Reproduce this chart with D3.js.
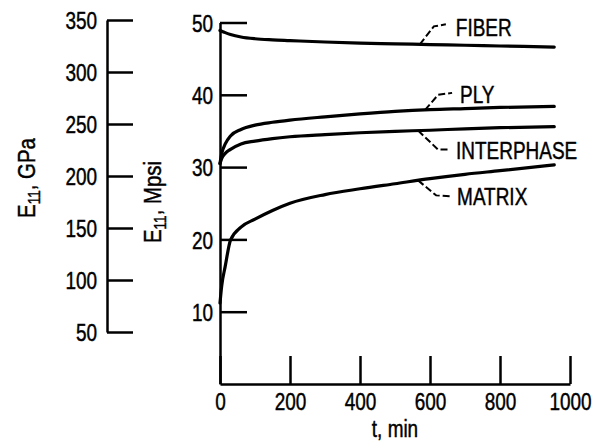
<!DOCTYPE html>
<html>
<head>
<meta charset="utf-8">
<script src="https://cdn.jsdelivr.net/npm/d3@7"></script>
<style>
  html, body { margin: 0; padding: 0; background: #fff; }
  svg text { font-family: "Liberation Sans", Arial, sans-serif; fill: #000; stroke: #000; stroke-width: 0.45px; }
</style>
</head>
<body>
<div id="chart"></div>
<script>
// time, min (shared sample points for every curve)
const times = [0, 5, 15, 30, 60, 100, 150, 200, 300, 400, 500, 600, 700, 800, 955];

// E11, Mpsi
const fiber      = [48.9, 48.8, 48.6, 48.35, 48.0, 47.75, 47.6, 47.5, 47.3, 47.15, 47.05, 46.95, 46.85, 46.75, 46.6];
const ply        = [30.5, 31.9, 33.2, 34.3, 35.2, 35.8, 36.2, 36.5, 36.95, 37.35, 37.7, 37.95, 38.1, 38.25, 38.4];
const interphase = [30.5, 31.2, 31.9, 32.45, 33.2, 33.6, 33.95, 34.2, 34.5, 34.75, 34.95, 35.1, 35.3, 35.45, 35.6];
const matrix     = [11.2, 13.6, 16.3, 19.9, 21.7, 22.8, 24.0, 25.0, 26.2, 27.0, 27.7, 28.4, 29.0, 29.5, 30.3];

const seriesNames = ["FIBER", "PLY", "INTERPHASE", "MATRIX"];
const seriesValues = [fiber, ply, interphase, matrix];

// where each leader line leaves its curve (t, min)
const leaderAt = [571, 586, 566, 566];

const xTicks = [0, 200, 400, 600, 800, 1000];
const yTicks = [10, 20, 30, 40, 50];
const gpaTicks = [50, 100, 150, 200, 250, 300, 350];

const width = 593, height = 448;
const squeeze = 0.79; // the scan uses a condensed face

const svg = d3.select("#chart")
  .append("svg")
  .attr("width", width)
  .attr("height", height);

const x = d3.scaleLinear().domain([0, 1000]).range([220, 570]);
const y = d3.scaleLinear().domain([0, 50]).range([384, 22.5]);
const yGpa = d3.scaleLinear().domain([50, 350]).range([332, 20]);

// main x axis, ticks pointing up
const xAxis = svg.append("g")
  .attr("transform", `translate(0,${y(0)})`)
  .call(d3.axisBottom(x).tickValues(xTicks).tickFormat(d3.format("d"))
    .tickSizeInner(-28).tickSizeOuter(0).tickPadding(9));

// main y axis, ticks pointing right
const yAxis = svg.append("g")
  .attr("transform", `translate(${x(0)},0)`)
  .call(d3.axisLeft(y).tickValues(yTicks).tickFormat(d3.format("d"))
    .tickSizeInner(-27).tickSizeOuter(0).tickPadding(7 / squeeze));

// GPa axis
const gAxis = svg.append("g")
  .attr("transform", "translate(107,0)")
  .call(d3.axisLeft(yGpa).tickValues(gpaTicks).tickFormat(d3.format("d"))
    .tickSizeInner(-26).tickSizeOuter(0).tickPadding(10 / squeeze));

[xAxis, yAxis, gAxis].forEach(g => {
  g.select(".domain").attr("stroke", "#000").attr("stroke-width", 2.5);
  g.selectAll(".tick line").attr("stroke", "#000").attr("stroke-width", 2.5);
  g.selectAll(".tick text").attr("font-size", 24).attr("fill", "#000")
    .attr("font-family", null)
    .attr("transform", `scale(${squeeze},1)`);
});
xAxis.selectAll(".tick text").attr("dy", "0.72em");
yAxis.selectAll(".tick text").attr("dy", "0.36em");
gAxis.selectAll(".tick text").attr("dy", "0.36em");

// curves
const line = d3.line()
  .x((d, i) => x(times[i]))
  .y(d => y(d))
  .curve(d3.curveMonotoneX);

svg.append("g")
  .selectAll("path")
  .data(seriesValues)
  .join("path")
  .attr("d", d => line(d))
  .attr("fill", "none")
  .attr("stroke", "#000")
  .attr("stroke-width", 3.2)
  .attr("stroke-linecap", "round");

// leader lines + labels
const leaderShape = [
  [[14, -18], [26, -20]],
  [[13, -15], [27, -17]],
  [[20, 19], [32, 19]],
  [[18, 15], [33, 16]]
];
const labelOffset = [[36, -8], [35, -7], [38, 28], [39, 25]];

seriesNames.forEach((name, k) => {
  const t = leaderAt[k];
  const v = d3.scaleLinear().domain(times).range(seriesValues[k])(t);
  const px = x(t), py = y(v);
  const pts = [[px, py]].concat(leaderShape[k].map(p => [px + p[0], py + p[1]]));
  svg.append("path")
    .attr("d", d3.line()(pts))
    .attr("fill", "none")
    .attr("stroke", "#000")
    .attr("stroke-width", 2)
    .attr("stroke-dasharray", "7,3");
  svg.append("text")
    .attr("transform", `translate(${px + labelOffset[k][0]},${py + labelOffset[k][1]}) scale(${squeeze},1)`)
    .attr("font-size", 24)
    .text(name);
});

// axis titles
svg.append("text")
  .attr("transform", `translate(${x(500)},437) scale(${squeeze},1)`)
  .attr("text-anchor", "middle")
  .attr("font-size", 24)
  .text("t, min");

function eTitle(cx, cy, unit) {
  const t = svg.append("text")
    .attr("transform", `translate(${cx},${cy}) rotate(-90) scale(0.85,1)`)
    .attr("text-anchor", "middle")
    .attr("font-size", 24);
  t.append("tspan").text("E");
  t.append("tspan").attr("font-size", 16).attr("dy", 5).text("11");
  t.append("tspan").attr("dy", -5).text(",  " + unit);
}
eTitle(35, 178, "GPa");
eTitle(161, 202, "Mpsi");
</script>
</body>
</html>
